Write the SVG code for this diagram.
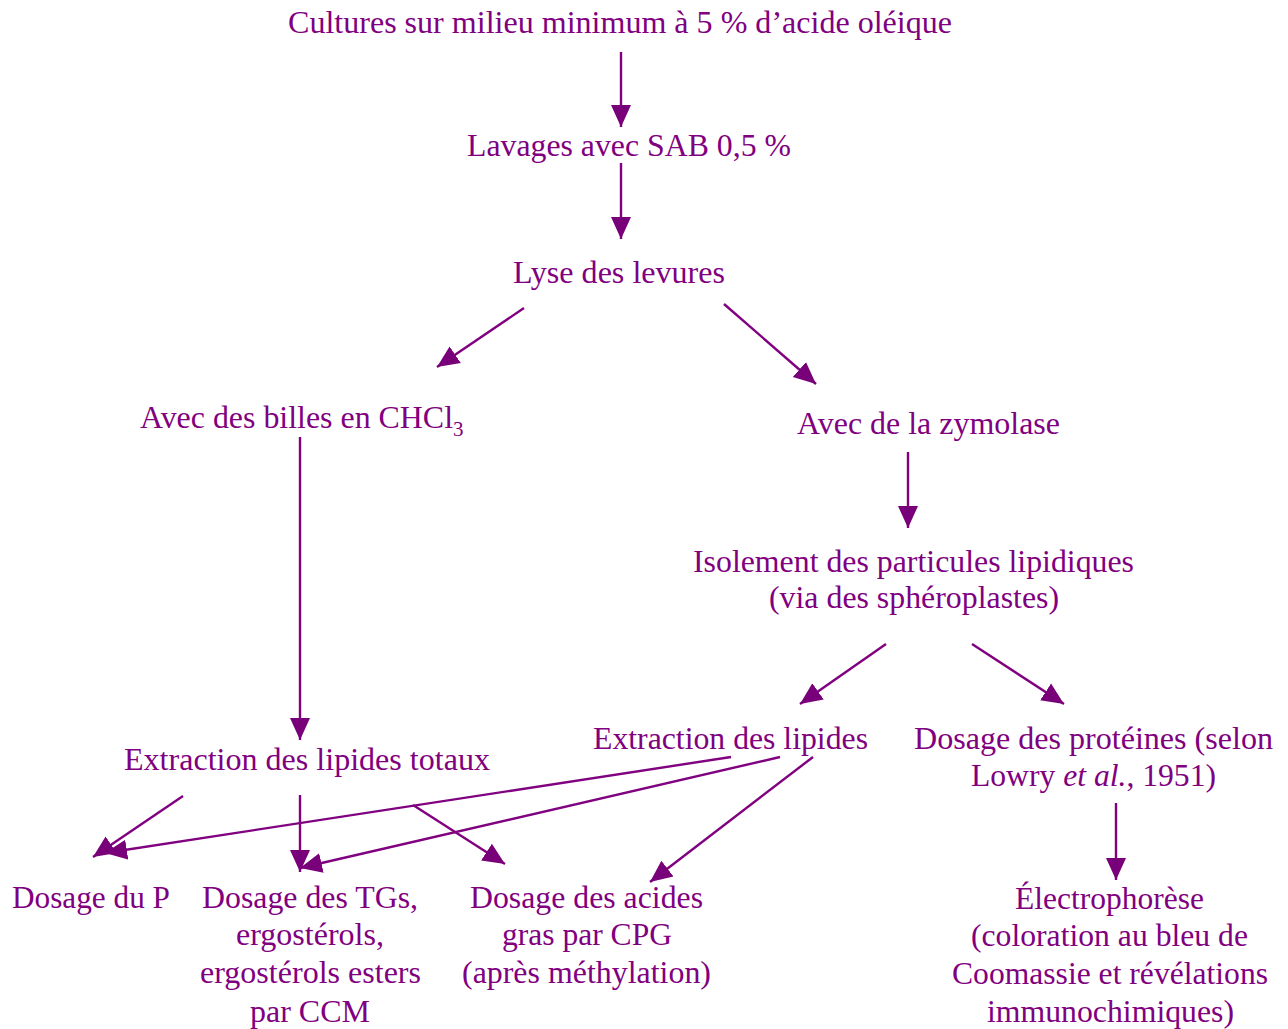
<svg xmlns="http://www.w3.org/2000/svg" width="1288" height="1029" viewBox="0 0 1288 1029">
<style>
  text { font-family: "Liberation Serif", "Times New Roman", serif; font-size: 32px; fill: #800080; }
  .sub { font-size: 21px; }
  .conn line { stroke: #800080; stroke-width: 2.4; fill: none; marker-end: url(#ah); }
</style>
<defs>
  <marker id="ah" markerUnits="userSpaceOnUse" markerWidth="22" markerHeight="22" viewBox="0 0 22 22" refX="22" refY="11" orient="auto">
    <path d="M0,1 L22,11 L0,21 z" fill="#780078"/>
  </marker>
</defs>
<rect width="1288" height="1029" fill="#ffffff"/>

<g id="n-cultures"><text x="288" y="33" textLength="664" lengthAdjust="spacingAndGlyphs">Cultures sur milieu minimum à 5 % d’acide oléique</text></g>
<g id="n-lavages"><text x="467" y="156" textLength="324" lengthAdjust="spacingAndGlyphs">Lavages avec SAB 0,5 %</text></g>
<g id="n-lyse"><text x="513" y="283" textLength="212" lengthAdjust="spacingAndGlyphs">Lyse des levures</text></g>
<g id="n-billes"><text x="140" y="428" textLength="313" lengthAdjust="spacingAndGlyphs">Avec des billes en CHCl</text><text class="sub" x="453" y="436">3</text></g>
<g id="n-zymolase"><text x="797" y="434" textLength="263" lengthAdjust="spacingAndGlyphs">Avec de la zymolase</text></g>
<g id="n-isolement">
  <text x="693" y="572" textLength="441" lengthAdjust="spacingAndGlyphs">Isolement des particules lipidiques</text>
  <text x="769" y="608" textLength="290" lengthAdjust="spacingAndGlyphs">(via des sphéroplastes)</text>
</g>
<g id="n-extraction"><text x="593" y="749" textLength="275" lengthAdjust="spacingAndGlyphs">Extraction des lipides</text></g>
<g id="n-proteines">
  <text x="914" y="749" textLength="359" lengthAdjust="spacingAndGlyphs">Dosage des protéines (selon</text>
  <text x="971" y="786" textLength="245" lengthAdjust="spacingAndGlyphs">Lowry <tspan font-style="italic">et al.</tspan>, 1951)</text>
</g>
<g id="n-totaux"><text x="124" y="770" textLength="366" lengthAdjust="spacingAndGlyphs">Extraction des lipides totaux</text></g>
<g id="n-dosageP"><text x="12" y="908" textLength="158" lengthAdjust="spacingAndGlyphs">Dosage du P</text></g>
<g id="n-tgs">
  <text x="202" y="908" textLength="216" lengthAdjust="spacingAndGlyphs">Dosage des TGs,</text>
  <text x="236" y="945" textLength="148" lengthAdjust="spacingAndGlyphs">ergostérols,</text>
  <text x="200" y="983" textLength="221" lengthAdjust="spacingAndGlyphs">ergostérols esters</text>
  <text x="250" y="1022" textLength="120" lengthAdjust="spacingAndGlyphs">par CCM</text>
</g>
<g id="n-acides">
  <text x="470" y="908" textLength="233" lengthAdjust="spacingAndGlyphs">Dosage des acides</text>
  <text x="502" y="945" textLength="170" lengthAdjust="spacingAndGlyphs">gras par CPG</text>
  <text x="462" y="983" textLength="249" lengthAdjust="spacingAndGlyphs">(après méthylation)</text>
</g>
<g id="n-electro">
  <text x="1015" y="909" textLength="189" lengthAdjust="spacingAndGlyphs">Électrophorèse</text>
  <text x="971" y="946" textLength="277" lengthAdjust="spacingAndGlyphs">(coloration au bleu de</text>
  <text x="952" y="984" textLength="316" lengthAdjust="spacingAndGlyphs">Coomassie et révélations</text>
  <text x="987" y="1022" textLength="247" lengthAdjust="spacingAndGlyphs">immunochimiques)</text>
</g>

<g id="connectors" class="conn">
  <line x1="621" y1="52" x2="621" y2="127"/>
  <line x1="621" y1="163" x2="621" y2="239"/>
  <line x1="524" y1="308" x2="437" y2="367"/>
  <line x1="724" y1="304" x2="816" y2="384"/>
  <line x1="300" y1="437" x2="300" y2="740"/>
  <line x1="908" y1="452" x2="908" y2="528"/>
  <line x1="886" y1="644" x2="800" y2="704"/>
  <line x1="972" y1="644" x2="1064" y2="704"/>
  <line x1="1116" y1="803" x2="1116" y2="880"/>
  <line x1="183" y1="796" x2="93" y2="857"/>
  <line x1="300" y1="795" x2="300" y2="872"/>
  <line x1="731" y1="757" x2="105" y2="853"/>
  <line x1="780" y1="757" x2="300" y2="868"/>
  <line x1="413" y1="805" x2="505" y2="864"/>
  <line x1="813" y1="757" x2="650" y2="882"/>
</g>
</svg>
